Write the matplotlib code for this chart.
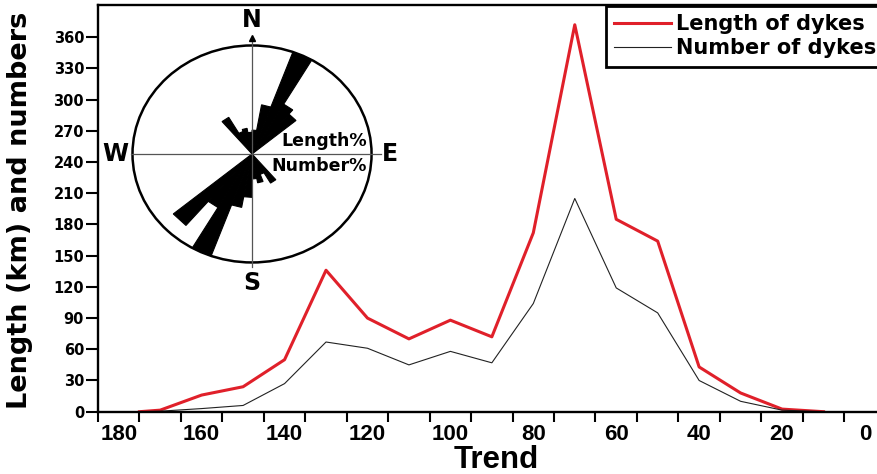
import numpy as np
import matplotlib
matplotlib.use('Agg')
import matplotlib.pyplot as plt
from matplotlib.patches import Ellipse

plt.rcParams['font.family'] = ['DejaVu Sans']
plt.rcParams['font.weight'] = 'bold'

# trend (degrees) and the two series
trend = [175, 170, 160, 150, 140, 130, 120, 110, 100, 90, 80, 70, 60, 50, 40, 30, 20, 10]
length_km = [0, 1.5, 16, 24, 50, 136, 90, 70, 88, 72, 172, 372, 185, 164, 43, 18, 2.5, 0]
number_dykes = [0, 0.5, 3, 6, 27, 67, 61, 45, 58, 47, 104, 205, 119, 95, 30, 10, 1.5, 0]

x_labels = [180, 160, 140, 120, 100, 80, 60, 40, 20, 0]
x_tick_marks = list(range(185, 0, -10))
y_ticks = list(range(0, 361, 30))

# rose diagram: bin start (deg from N, clockwise), relative radius
rose_length_dir = [-40, -30, -20, -10, 0, 10, 20, 30, 40]
rose_length_val = [0.39, 0.22, 0.24, 0.20, 0.22, 0.46, 1.0, 0.53, 0.48]
rose_number_dir = [140, 150, 160, 170, 180, 190, 200, 210, 220]
rose_number_val = [0.31, 0.20, 0.27, 0.23, 0.40, 0.50, 1.0, 0.57, 0.86]
bin_width = 10

W, H = 877, 474
fig = plt.figure(figsize=(W / 100, H / 100), dpi=100)
ax = fig.add_axes([98 / W, (H - 411.7) / H, 779 / W, 406.7 / H])

ax.plot(trend, length_km, color='#e0202a', lw=2.2, label='Length of dykes')
ax.plot(trend, number_dykes, color='#222222', lw=0.8, label='Number of dykes')

ax.set_xlim(185, -2.9)
ax.set_ylim(0, 391)
ax.spines['right'].set_visible(False)
for s in ['left', 'top', 'bottom']:
    ax.spines[s].set_linewidth(1.7)

# tick marks sit between the labels, like the original
ax.set_xticks(x_tick_marks)
ax.set_xticklabels([])
ax.set_xticks(x_labels, minor=True)
ax.set_xticklabels([str(v) for v in x_labels], minor=True,
                   family=['Liberation Sans Narrow', 'Liberation Sans', 'DejaVu Sans'],
                   fontweight='bold', fontsize=16)
ax.tick_params(axis='x', which='major', direction='out', length=7, width=1.5)
ax.tick_params(axis='x', which='minor', length=0, pad=8.5)

ax.set_yticks(y_ticks)
ax.set_yticklabels([str(v) for v in y_ticks], fontsize=10.5, fontweight='bold')
ax.tick_params(axis='y', direction='out', length=9, width=1.5, pad=1)

ax.set_xlabel('Trend', family=['Liberation Sans', 'DejaVu Sans'], fontsize=22.5, fontweight='bold')
ax.xaxis.set_label_coords(0.511, -0.082)
ax.set_ylabel('Length (km) and numbers', fontsize=19.5, fontweight='bold')
ax.yaxis.set_label_coords(-0.083, 0.495)

leg = ax.legend(loc='upper left', bbox_to_anchor=((606 - 98) / 779, 1 - 1 / 406.7),
                borderaxespad=0, fancybox=False, edgecolor='black', framealpha=1,
                handlelength=2.7, handletextpad=0.25, labelspacing=0.2, borderpad=0.4,
                prop={'weight': 'bold', 'size': 15.0})
leg.get_frame().set_linewidth(2)

# rose inset, unit circle stretched into the ellipse
rax = fig.add_axes([100 / W, (H - 295) / H, 300 / W, 285 / H])
rax.set_xlim(-1.272, 1.238)
rax.set_ylim(-1.30, 1.327)
rax.axis('off')

rax.add_patch(Ellipse((0, 0), 2, 2, fill=False, lw=1.8, color='black'))
rax.plot([-1.01, 1.075], [0, 0], color='#555555', lw=0.9)
rax.plot([0, 0], [-1.04, 1.08], color='#555555', lw=0.9)
rax.plot([0], [1.07], marker='^', color='black', markersize=5)

for dirs, vals in [(rose_length_dir, rose_length_val), (rose_number_dir, rose_number_val)]:
    for d, r in zip(dirs, vals):
        a1 = np.radians(d)
        a2 = np.radians(d + bin_width)
        rax.fill([0, r * np.sin(a1), r * np.sin(a2)],
                 [0, r * np.cos(a1), r * np.cos(a2)],
                 facecolor='black', edgecolor='black', lw=0.8)

rax.text(0, 1.235, 'N', ha='center', va='center', fontsize=17, fontweight='bold')
rax.text(0, -1.19, 'S', ha='center', va='center', fontsize=17, fontweight='bold')
rax.text(-1.146, 0, 'W', ha='center', va='center', fontsize=17, fontweight='bold')
rax.text(1.155, 0, 'E', ha='center', va='center', fontsize=17, fontweight='bold')
rax.text(0.96, 0.115, 'Length%', ha='right', va='center', fontsize=12.5, fontweight='bold')
rax.text(0.96, -0.11, 'Number%', ha='right', va='center', fontsize=12.5, fontweight='bold')

fig.savefig('out.png', dpi=100)
